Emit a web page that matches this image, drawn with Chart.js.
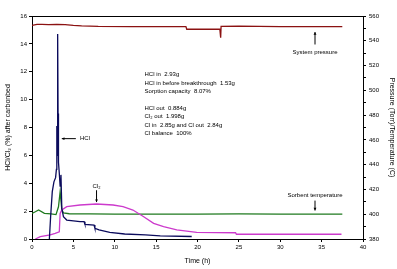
<!DOCTYPE html>
<html><head><meta charset="utf-8">
<script src="https://cdn.jsdelivr.net/npm/chart.js@4"></script>
<style>html,body{margin:0;padding:0;background:#fff}canvas{display:block}</style>
</head><body>
<canvas id="c" width="397" height="269" style="width:397px;height:269px"></canvas>
<script>
const hclT = [2.1,2.25,2.45,2.65,2.85,2.95,3.0,3.05,3.1,3.15,3.2,3.3,3.4,3.5,3.6,3.8,4.2,5.0,5.8,6.3,6.4,7.5,7.6,8.1,9.4,11.2,13.7,15.5,19.3];
const hclV = [0,1.6,3.4,4.1,4.4,5.0,8.1,6.0,14.7,9.0,5.5,4.7,3.8,4.6,2.2,1.6,1.36,1.3,1.24,1.24,1.05,1.0,0.77,0.65,0.48,0.36,0.29,0.22,0.18];
const cl2T = [0.4,1.0,2.2,2.8,3.3,3.4,3.6,4.2,5.8,7.8,9.8,11.0,12.2,13.5,14.7,15.9,17.5,19.9,24.6,24.7,37.4];
const cl2V = [0,0.17,0.29,0.41,0.52,1.84,2.08,2.32,2.44,2.51,2.44,2.32,2.08,1.6,1.12,0.88,0.65,0.48,0.45,0.34,0.34];
const tempT = [0,0.4,0.8,1.5,2.3,2.9,3.2,3.4,3.6,3.8,4.5,7,10,15,20,25,30,37.5];
const tempV = [400.7,402,403.4,400.7,400.2,399.7,406,418,404,401,400.4,400.2,400,400,400,400.2,400,400];
const presT = [0,0.6,1.2,2,3,4,5,6,8,12,15,18.6,18.7,22.7,22.8,22.85,25,30,37.5];
const presV = [552.5,553.3,553.2,553,553.3,553,552.4,552,551.6,551.4,551.4,551.4,549.3,549.3,542.5,551.6,551.8,551.5,551.4];
const xTicks = {min:0,max:40,step:5};
const yTicks = {min:0,max:16,step:2};
const y2Ticks = {min:380,max:560,step:10,labelStep:20};
const notes = ["HCl in  2.93g","HCl in before breakthrough  1.53g","Sorption capacity  8.07%","","HCl out  0.884g","Cl\u2082 out  1.998g","Cl in  2.85g and Cl out  2.84g","Cl balance  100%"];

const pts = (t,v) => t.map((x,i)=>({x:x,y:v[i]}));
const F = "'Liberation Sans', Arial, sans-serif";

const annot = {
  id:'annot',
  afterDatasetsDraw(chart){
    const c = chart.ctx, xs = chart.scales.x, ys = chart.scales.y, ca = chart.chartArea;
    c.save();
    c.strokeStyle='#000'; c.lineWidth=1;
    c.beginPath(); c.moveTo(ca.left, ca.top+0.5); c.lineTo(ca.right, ca.top+0.5); c.stroke();
    c.fillStyle='#000'; c.font='6px '+F; c.textBaseline='middle';
    let yy = ys.getPixelForValue(11.8);
    const x0 = xs.getPixelForValue(13.6);
    const lh = 8.4;
    notes.forEach((s)=>{ if(s) c.fillText(s, x0, yy); yy += lh; });
    const arrow=(x1,y1,x2,y2)=>{
      c.beginPath(); c.moveTo(x1,y1); c.lineTo(x2,y2); c.stroke();
      const a=Math.atan2(y2-y1,x2-x1), L=3;
      c.beginPath(); c.moveTo(x2,y2);
      c.lineTo(x2-L*Math.cos(a-0.5),y2-L*Math.sin(a-0.5));
      c.lineTo(x2-L*Math.cos(a+0.5),y2-L*Math.sin(a+0.5)); c.closePath(); c.fill();
    };
    const hy = ys.getPixelForValue(7.2);
    arrow(xs.getPixelForValue(5.3), hy, xs.getPixelForValue(3.6), hy);
    c.fillText('HCl', xs.getPixelForValue(5.8), hy);
    const cx = xs.getPixelForValue(7.8);
    c.textAlign='center';
    c.fillText('Cl\u2082', cx, ys.getPixelForValue(3.8));
    arrow(cx, ys.getPixelForValue(3.5), cx, ys.getPixelForValue(2.65));
    const sx = xs.getPixelForValue(34.2);
    const y2 = chart.scales.y2;
    arrow(sx, y2.getPixelForValue(537), sx, y2.getPixelForValue(547));
    c.fillText('System pressure', sx, y2.getPixelForValue(530.5));
    c.fillText('Sorbent temperature', sx, y2.getPixelForValue(415.5));
    arrow(sx, y2.getPixelForValue(411), sx, y2.getPixelForValue(403));
    c.restore();
  }
};

new Chart(document.getElementById('c'), {
  type:'line',
  data:{datasets:[
    {label:'HCl', data:pts(hclT,hclV), yAxisID:'y', borderColor:'#0b0b5c', borderWidth:1.3, pointRadius:0, tension:0},
    {label:'Cl2', data:pts(cl2T,cl2V), yAxisID:'y', borderColor:'#cc3acc', borderWidth:1.3, pointRadius:0, tension:0},
    {label:'Sorbent temperature', data:pts(tempT,tempV), yAxisID:'y2', borderColor:'#1f7a1f', borderWidth:1.3, pointRadius:0, tension:0},
    {label:'System pressure', data:pts(presT,presV), yAxisID:'y2', borderColor:'#8b1212', borderWidth:1.3, pointRadius:0, tension:0}
  ]},
  options:{
    responsive:false, animation:false,
    layout:{padding:{top:16,left:0,right:0,bottom:0}},
    plugins:{legend:{display:false},tooltip:{enabled:false}},
    scales:{
      x:{type:'linear', min:xTicks.min, max:xTicks.max,
         ticks:{stepSize:xTicks.step, font:{size:6,family:F}, color:'#000', padding:2, maxRotation:0},
         grid:{drawOnChartArea:false, tickLength:3, color:'#000'},
         border:{color:'#000', width:1},
         title:{display:true, text:'Time (h)', font:{size:7,family:F}, color:'#000', padding:{top:4}},
         afterFit(s){ s.height = 30; }},
      y:{type:'linear', position:'left', min:yTicks.min, max:yTicks.max,
         ticks:{stepSize:yTicks.step, font:{size:6,family:F}, color:'#000', padding:2},
         grid:{drawOnChartArea:false, tickLength:3, color:'#000'},
         border:{color:'#000', width:1},
         title:{display:true, text:'HCl/Cl\u2082 (%) after carbonbed', font:{size:7,family:F}, color:'#000', padding:{bottom:1}},
         afterFit(s){ s.width = 32; }},
      y2:{type:'linear', position:'right', min:y2Ticks.min, max:y2Ticks.max,
         ticks:{stepSize:y2Ticks.step, font:{size:6,family:F}, color:'#000', padding:3,
           callback:(v)=> (v % y2Ticks.labelStep === 0 ? v : '')},
         grid:{drawOnChartArea:false, tickLength:3, color:'#000'},
         border:{color:'#000', width:1},
         title:{display:true, text:'Pressure (Torr)/Temperature (C)', font:{size:7,family:F}, color:'#000', padding:{top:1}},
         afterFit(s){ s.width = 34; }}
    }
  },
  plugins:[annot]
});
</script>
</body></html>
